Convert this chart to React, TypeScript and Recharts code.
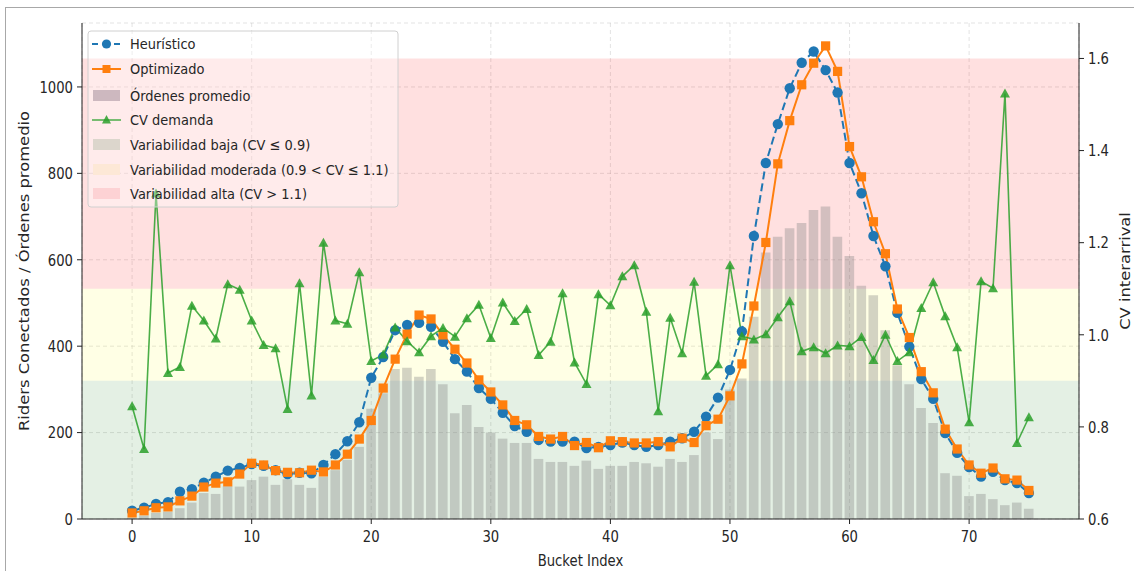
import React from 'react';
import { ComposedChart, Bar, Line, XAxis, YAxis, CartesianGrid, ReferenceArea } from 'recharts';

const buckets: number[] = Array.from({ length: 76 }, (_, i) => i);

const heuristico: number[] = [
  19, 26, 35, 39, 63, 69, 84, 98, 112, 118,
  127, 123, 113, 104, 107, 106, 125, 150, 180, 224,
  327, 375, 437, 449, 454, 445, 410, 370, 341, 303,
  278, 246, 215, 202, 183, 179, 179, 179, 164, 167,
  171, 177, 171, 167, 171, 179, 187, 202, 237, 281,
  345, 434, 655, 824, 914, 997, 1056, 1082, 1039, 987,
  824, 754, 655, 585, 477, 399, 324, 278, 199, 153,
  120, 98, 109, 90, 83, 60,
];

const optimizado: number[] = [
  14, 19, 26, 28, 42, 53, 74, 83, 86, 104,
  129, 125, 112, 108, 107, 113, 109, 125, 150, 185,
  228, 303, 370, 428, 472, 463, 426, 393, 361, 322,
  294, 264, 228, 218, 191, 185, 191, 170, 177, 165,
  181, 179, 176, 176, 179, 167, 187, 177, 216, 231,
  285, 359, 493, 640, 822, 922, 1005, 1055, 1095, 1036,
  862, 792, 688, 614, 486, 420, 341, 292, 208, 162,
  125, 106, 118, 93, 90, 66,
];

const ordenes: number[] = [
  3, 8, 14, 17, 25, 38, 60, 58, 76, 75,
  90, 98, 79, 92, 79, 72, 98, 113, 137, 167,
  255, 291, 347, 350, 329, 347, 312, 245, 264, 213,
  200, 186, 176, 176, 139, 132, 132, 123, 135, 116,
  123, 123, 132, 129, 121, 139, 132, 148, 200, 185,
  300, 325, 468, 617, 653, 673, 685, 715, 723, 653,
  609, 540, 518, 437, 356, 312, 257, 222, 106, 100,
  53, 58, 46, 32, 38, 24,
];

const cvDemanda: number[] = [
  0.845, 0.752, 1.307, 0.917, 0.93, 1.063, 1.031, 0.992, 1.11, 1.098,
  1.031, 0.978, 0.971, 0.839, 1.112, 0.868, 1.2, 1.031, 1.024, 1.136,
  0.943, 0.957, 1.016, 0.986, 0.962, 0.997, 1.015, 0.996, 1.036, 1.065,
  0.993, 1.07, 1.03, 1.056, 0.956, 0.985, 1.09, 0.94, 0.893, 1.088,
  1.064, 1.127, 1.151, 1.05, 0.834, 1.037, 0.96, 1.115, 0.911, 0.936,
  1.151, 0.997, 0.99, 1.001, 1.038, 1.073, 0.964, 0.973, 0.96, 0.977,
  0.975, 0.995, 0.945, 1.0, 0.943, 0.962, 1.058, 1.114, 1.04, 0.973,
  0.81, 1.116, 1.101, 1.524, 0.765, 0.821,
];

const xTicks: number[] = [0, 10, 20, 30, 40, 50, 60, 70];
const leftTicks: number[] = [0, 200, 400, 600, 800, 1000];
const rightTicks: number[] = [0.6, 0.8, 1.0, 1.2, 1.4, 1.6];

const data = buckets.map((b, i) => ({
  i: b,
  heur: heuristico[i],
  opt: optimizado[i],
  ord: ordenes[i],
  cv: cvDemanda[i],
}));

const BLUE = '#1f77b4';
const ORANGE = '#ff7f0e';
const GREEN = '#2ca02c';
const FONT = 'DejaVu Sans, sans-serif';
const TXT = '#262626';
const SY = 1.18;

const CircleDot = (props: any) => {
  const { cx, cy, index } = props;
  if (cx == null || cy == null) return <g key={`h-${index}`} />;
  return <circle key={`h-${index}`} cx={cx} cy={cy} r={5.2} fill={BLUE} />;
};

const SquareDot = (props: any) => {
  const { cx, cy, index } = props;
  if (cx == null || cy == null) return <g key={`o-${index}`} />;
  return <rect key={`o-${index}`} x={cx - 4.6} y={cy - 4.6} width={9.2} height={9.2} fill={ORANGE} />;
};

const TriDot = (props: any) => {
  const { cx, cy, index } = props;
  if (cx == null || cy == null) return <g key={`c-${index}`} />;
  const s = 5;
  return (
    <path
      key={`c-${index}`}
      d={`M${cx},${cy - s} L${cx + s},${cy + s * 0.8} L${cx - s},${cy + s * 0.8} Z`}
      fill={GREEN}
      fillOpacity={0.85}
    />
  );
};

const XTick = (props: any) => {
  const { x, y, payload } = props;
  return (
    <g transform={`translate(${x},${y + 15}) scale(1,${SY})`}>
      <text x={0} y={0} textAnchor="middle" fontSize={13.2} fontFamily={FONT} fill={TXT}>
        {payload.value}
      </text>
    </g>
  );
};

const LeftTick = (props: any) => {
  const { x, y, payload } = props;
  return (
    <g transform={`translate(${x},${y}) scale(1,${SY})`}>
      <text x={0} y={4.9} textAnchor="end" fontSize={13.2} fontFamily={FONT} fill={TXT}>
        {payload.value}
      </text>
    </g>
  );
};

const RightTick = (props: any) => {
  const { x, y, payload } = props;
  return (
    <g transform={`translate(${x},${y}) scale(1,${SY})`}>
      <text x={0} y={4.9} textAnchor="start" fontSize={13.2} fontFamily={FONT} fill={TXT}>
        {Number(payload.value).toFixed(1)}
      </text>
    </g>
  );
};

const legendItems = [
  { label: 'Heurístico', kind: 'line-dash', color: BLUE, y: 44 },
  { label: 'Optimizado', kind: 'line-sq', color: ORANGE, y: 69 },
  { label: 'Órdenes promedio', kind: 'patch', color: '#cdb8bf', y: 96 },
  { label: 'CV demanda', kind: 'line-tri', color: GREEN, y: 120 },
  { label: 'Variabilidad baja (CV ≤ 0.9)', kind: 'patch', color: '#dcd6cc', y: 145 },
  { label: 'Variabilidad moderada (0.9 < CV ≤ 1.1)', kind: 'patch', color: '#fde8d6', y: 170 },
  { label: 'Variabilidad alta (CV > 1.1)', kind: 'patch', color: '#fdd2d4', y: 194 },
];

const Overlay = () => (
  <svg style={{ position: 'absolute', left: 0, top: 0 }} width={1134} height={571} pointerEvents="none">
    <rect x={88} y={31} width={310} height={176} rx={3} fill="#ffffff" fillOpacity={0.35} stroke="#d0d0d0" />
    {legendItems.map((it) => {
      const y = it.y;
      let sw: React.ReactNode = null;
      if (it.kind === 'patch') {
        sw = <rect x={93} y={y - 6} width={27} height={11} fill={it.color} />;
      } else if (it.kind === 'line-dash') {
        sw = (
          <g>
            <line x1={92} y1={y} x2={121} y2={y} stroke={it.color} strokeWidth={2} strokeDasharray="6 5" />
            <circle cx={106.5} cy={y} r={4.6} fill={it.color} />
          </g>
        );
      } else if (it.kind === 'line-sq') {
        sw = (
          <g>
            <line x1={92} y1={y} x2={121} y2={y} stroke={it.color} strokeWidth={2} />
            <rect x={102.5} y={y - 4} width={8} height={8} fill={it.color} />
          </g>
        );
      } else {
        sw = (
          <g>
            <line x1={92} y1={y} x2={121} y2={y} stroke={it.color} strokeWidth={1.5} strokeOpacity={0.85} />
            <path d={`M106.5,${y - 5} L111,${y + 3.5} L102,${y + 3.5} Z`} fill={it.color} fillOpacity={0.85} />
          </g>
        );
      }
      return (
        <g key={it.label}>
          {sw}
          <g transform={`translate(130,${y + 5.3}) scale(1,1.15)`}>
            <text x={0} y={0} fontSize={13} fontFamily={FONT} fill={TXT}>
              {it.label}
            </text>
          </g>
        </g>
      );
    })}
    <g transform={`translate(580.5,566) scale(1,${SY})`}>
      <text x={0} y={0} textAnchor="middle" fontSize={13.2} fontFamily={FONT} fill={TXT}>
        Bucket Index
      </text>
    </g>
    <g transform={`translate(29,271) scale(1,1.22) rotate(-90)`}>
      <text x={0} y={0} textAnchor="middle" fontSize={13.4} fontFamily={FONT} fill={TXT}>
        Riders Conectados / Órdenes promedio
      </text>
    </g>
    <g transform={`translate(1129.5,271) scale(1,1.22) rotate(-90)`}>
      <text x={0} y={0} textAnchor="middle" fontSize={13.4} fontFamily={FONT} fill={TXT}>
        CV interarrival
      </text>
    </g>
  </svg>
);

export default function App() {
  return (
    <div style={{ position: 'absolute', left: 0, top: 0, width: 1134, height: 571, background: '#fff', overflow: 'hidden' }}>
      <div style={{ position: 'absolute', left: 5, top: 7, width: 1140, height: 580, borderLeft: '1.5px solid #a8a8a8', borderTop: '1.5px solid #a8a8a8' }} />
      <ComposedChart width={1134} height={571} data={data} margin={{ top: 23, right: 0, bottom: 0, left: 22 }}>
        <CartesianGrid xAxisId="x" yAxisId="left" strokeDasharray="4 3" stroke="#b8b8b8" strokeOpacity={0.4} />
        <XAxis
          xAxisId="x"
          dataKey="i"
          type="number"
          domain={[-4.19, 79.19]}
          ticks={xTicks}
          height={52}
          tickSize={5}
          tickMargin={3}
          stroke="#222"
          tick={<XTick />}
        />
        <XAxis xAxisId="top" orientation="top" dataKey="i" type="number" domain={[-4.19, 79.19]} height={0} tick={false} tickLine={false} stroke="#222" />
        <YAxis
          yAxisId="left"
          width={60}
          domain={[0, 1148]}
          ticks={leftTicks}
          tickSize={5}
          tickMargin={4}
          stroke="#222"
          tick={<LeftTick />}
        />
        <YAxis
          yAxisId="right"
          orientation="right"
          width={55}
          domain={[0.6, 1.677]}
          ticks={rightTicks}
          tickSize={5}
          tickMargin={4}
          stroke="#222"
          tick={<RightTick />}
        />
        <ReferenceArea xAxisId="x" yAxisId="right" y1={0.6} y2={0.9} fill="#0a7a0a" fillOpacity={0.11} stroke="none" />
        <ReferenceArea xAxisId="x" yAxisId="right" y1={0.9} y2={1.1} fill="#ffff00" fillOpacity={0.1} stroke="none" />
        <ReferenceArea xAxisId="x" yAxisId="right" y1={1.1} y2={1.6} fill="#ff0000" fillOpacity={0.12} stroke="none" />
        <Bar xAxisId="x" yAxisId="left" dataKey="ord" barSize={9.6} fill="#808080" fillOpacity={0.35} isAnimationActive={false} />
        <Line xAxisId="x" yAxisId="left" type="linear" dataKey="heur" stroke={BLUE} strokeWidth={2} strokeDasharray="8 4" dot={CircleDot} activeDot={false} isAnimationActive={false} />
        <Line xAxisId="x" yAxisId="left" type="linear" dataKey="opt" stroke={ORANGE} strokeWidth={2} dot={SquareDot} activeDot={false} isAnimationActive={false} />
        <Line xAxisId="x" yAxisId="right" type="linear" dataKey="cv" stroke={GREEN} strokeOpacity={0.85} strokeWidth={1.6} dot={TriDot} activeDot={false} isAnimationActive={false} />
      </ComposedChart>
      <Overlay />
    </div>
  );
}
